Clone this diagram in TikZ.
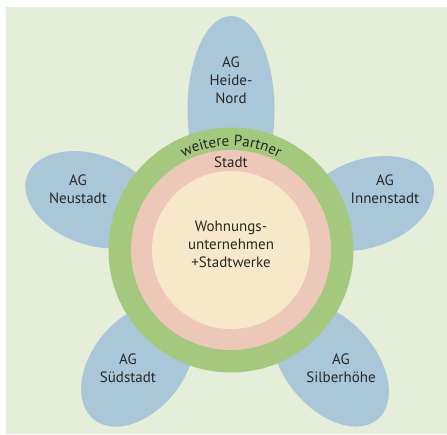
\documentclass[tikz,border=0pt]{standalone}
\usepackage{fontspec}
\setmainfont{PT Sans}
\usetikzlibrary{decorations.text}
\definecolor{bgGreen}{HTML}{E4EED9}
\definecolor{petalBlue}{HTML}{A9C7D9}
\definecolor{ringGreen}{HTML}{A4C87D}
\definecolor{ringPink}{HTML}{EDC8B9}
\definecolor{coreYellow}{HTML}{F6E8C9}
\definecolor{textGrey}{HTML}{282828}
\tikzset{
  petal/.style={fill=petalBlue},
  lbl/.style={align=center, text=textGrey, inner sep=0pt}
}
\begin{document}
\begin{tikzpicture}[x=1pt, y=1pt, font=\fontsize{15}{18}\selectfont, line join=round]
  \def\rOut{122.5}\def\rMid{100}\def\rIn{79}\def\rTxt{104}
  \useasboundingbox (0,0) rectangle (447,434);
  \fill[bgGreen] (6,0) rectangle (447,427);
  \coordinate (c) at (231,184);
  % petals: angle / centre distance / half length / half width
  \foreach \ang/\dist/\len/\wid in {90/140/94/43.5, 19/143/70/44, 160/147/70/45, -49/152/72/45, -129/148/70/46}
    \fill[petal, shift={(c)}, rotate=\ang] (\dist,0) ellipse [x radius=\len, y radius=\wid];
  % rings
  \fill[ringGreen] (c) circle [radius=\rOut];
  \fill[ringPink] (c) circle [radius=\rMid];
  \fill[coreYellow] (c) circle [radius=\rIn];
  \coordinate (arcStart) at ([shift={(152:\rTxt)}]c);
  \path[decorate, decoration={text along path, text align=center,
      text={|\fontsize{15}{16}\selectfont\color{textGrey}|weitere Partner}}]
    (arcStart) arc [start angle=152, end angle=28, radius=\rTxt];
  % labels
  \node[lbl] (heide) at (231,354) {AG\\Heide-\\Nord};
  \node[lbl] (neu) at (78,245) {AG\\Neustadt};
  \node[lbl] (innen) at (385,245) {AG\\Innenstadt};
  \node[lbl] (sued) at (128,66) {AG\\Südstadt};
  \node[lbl] (silber) at (341,66) {AG\\Silberhöhe};
  \node[lbl] (stadt) at (231,272) {Stadt};
  \node[lbl] (kern) at (231,189.5) {Wohnungs-\\unternehmen\\+Stadtwerke};
\end{tikzpicture}
\end{document}
